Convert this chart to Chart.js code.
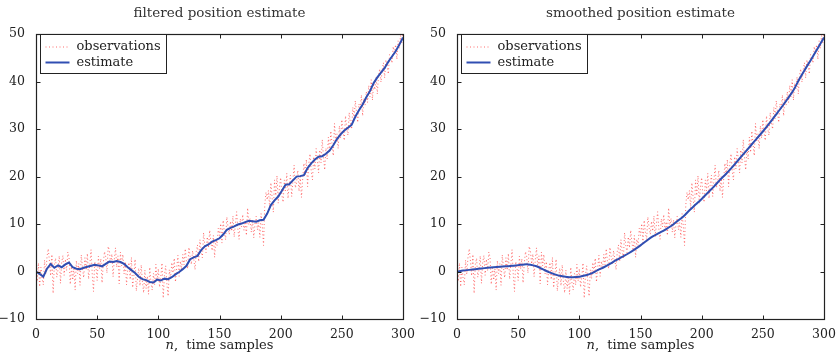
<!DOCTYPE html>
<html>
<head>
<meta charset="utf-8">
<script src="https://cdn.jsdelivr.net/npm/chart.js@4.4.0/dist/chart.umd.min.js"></script>
<style>
  html, body { margin: 0; padding: 0; background: #fff; }
  #wrap { position: relative; width: 836px; height: 356px; }
  canvas { position: absolute; top: 0; }
</style>
</head>
<body>
<div id="wrap">
  <canvas id="left" width="418" height="356" style="left:0"></canvas>
  <canvas id="right" width="418" height="356" style="left:418px"></canvas>
</div>
<script>
// noisy position measurements, one per time sample n = 0..300
var observations = [
  0.5, -2.1, 1.8, -3.2, 0.9, -1.5, -2.8, 2.4, -0.6, 3.1,
  4.8, 2.2, -0.9, 3.6, -4.6, 1.5, 2.8, -1.2, 0.4, 3.3,
  -2.5, 1.9, 3.4, -0.8, 2.6, 0.2, 4.1, 3.0, -2.7, 1.1,
  -1.8, 0.6, -3.9, 2.3, -0.4, 1.7, -2.9, 3.5, 0.8, -1.3,
  2.9, 0.3, 3.8, -1.6, 1.4, 4.6, -0.7, -4.2, 2.1, 1.0,
  -1.9, 3.2, 0.5, 2.7, -2.4, 1.8, 4.2, 3.1, -0.3, 5.3,
  4.4, 1.6, 3.7, -1.1, 2.5, 5.0, 0.9, 3.3, -2.6, 4.1,
  1.2, 3.6, -0.5, 2.1, -2.8, 0.4, 1.9, -1.7, 3.0, -3.4,
  -0.9, 2.6, -4.1, -1.5, 0.7, -3.0, 1.4, -2.2, -4.5, 0.3,
  -3.6, -1.0, -4.8, 0.9, -2.5, -3.9, -0.4, -2.8, 1.5, -2.0,
  0.6, -3.3, -1.2, 1.8, -5.6, -0.8, 1.2, -2.6, -5.2, 0.4,
  -1.5, 1.9, -0.3, 2.8, -2.2, 0.7, 3.4, -1.0, 2.2, 0.5,
  3.6, 1.4, 4.8, 2.0, 0.6, 5.1, 3.2, 1.5, 4.4, 2.6,
  0.4, 4.2, 5.6, 2.1, 6.7, 4.3, 2.9, 8.2, 5.4, 4.0,
  7.3, 5.0, 8.7, 6.1, 4.4, 7.6, 3.0, 6.8, 5.5, 9.1,
  7.6, 10.1, 6.0, 10.8, 8.2, 6.7, 11.5, 9.3, 7.8, 10.6,
  8.5, 11.7, 7.3, 9.9, 12.6, 9.0, 6.8, 11.1, 9.4, 12.0,
  8.7, 10.5, 7.6, 13.4, 9.8, 11.2, 8.3, 10.9, 7.1, 10.0,
  11.6, 8.8, 10.3, 7.2, 12.2, 9.5, 5.5, 14.0, 16.7, 15.1,
  17.1, 13.4, 18.7, 15.6, 12.5, 19.3, 16.0, 20.2, 14.4, 17.8,
  19.8, 16.1, 14.6, 19.3, 17.0, 20.7, 15.4, 18.5, 20.3, 15.8,
  19.2, 22.4, 17.6, 18.7, 21.3, 16.9, 20.0, 15.6, 19.5, 22.8,
  20.4, 23.6, 17.9, 22.7, 24.8, 21.1, 19.3, 24.2, 21.6, 25.9,
  23.5, 20.8, 25.6, 22.9, 27.8, 24.2, 21.4, 26.0, 23.7, 28.3,
  25.1, 29.6, 26.8, 24.4, 31.2, 27.5, 29.0, 25.9, 30.7, 28.1,
  32.0, 29.4, 27.6, 32.8, 30.2, 28.7, 33.5, 31.3, 30.0, 34.6,
  32.2, 36.0, 33.5, 31.4, 35.3, 34.1, 37.2, 32.8, 36.5, 35.0,
  37.9, 35.6, 39.2, 36.8, 40.4, 36.1, 39.7, 38.3, 41.0, 37.4,
  41.3, 42.7, 39.9, 42.5, 44.0, 40.8, 44.6, 43.4, 41.6, 45.7,
  45.2, 43.9, 47.4, 46.1, 47.8, 44.7, 48.6, 47.0, 49.7, 48.2,
  50.0
];

// filtered estimate, read every 3 samples
var filteredStep = 3;
var filteredEstimate = [
  0, -0.5, -1.1, 0.6, 1.6, 0.8, 1.3, 0.9, 1.5, 1.9,
  0.9, 0.6, 0.5, 0.8, 1.0, 1.2, 1.4, 1.3, 1.1, 1.6,
  2.1, 2.0, 2.2, 2.0, 1.6, 0.9, 0.3, -0.3, -1.1, -1.6,
  -1.8, -2.2, -2.3, -1.7, -1.9, -1.5, -1.6, -1.2, -0.6, -0.1,
  0.5, 1.2, 2.6, 3.0, 3.3, 4.5, 5.3, 5.7, 6.3, 6.6,
  7.0, 7.8, 8.8, 9.2, 9.5, 9.9, 10.1, 10.4, 10.7, 10.6,
  10.5, 10.8, 10.9, 12.2, 14.0, 15.0, 15.8, 17.0, 18.3, 18.4,
  19.2, 20.0, 20.1, 20.3, 21.8, 22.8, 23.6, 24.2, 24.3, 24.8,
  25.5, 26.6, 27.9, 28.9, 29.7, 30.3, 30.9, 32.6, 34.0, 35.2,
  36.7, 38.0, 39.7, 40.9, 41.9, 42.9, 44.2, 45.3, 46.4, 47.8,
  49.3
];

// smoothed estimate, read every 5 samples
var smoothedStep = 5;
var smoothedEstimate = [
  0, 0.2, 0.35, 0.5, 0.65, 0.78, 0.9, 1.0, 1.1, 1.2,
  1.35, 1.5, 1.45, 1.1, 0.5, -0.1, -0.6, -0.95, -1.15, -1.2,
  -1.1, -0.8, -0.4, 0.3, 0.9, 1.6, 2.4, 3.1, 3.8, 4.6,
  5.5, 6.5, 7.4, 8.1, 8.8, 9.6, 10.6, 11.6, 12.9, 14.1,
  15.3, 16.6, 17.9, 19.3, 20.6, 22.0, 23.5, 25.0, 26.5, 28.0,
  29.5, 31.1, 32.8, 34.5, 36.3, 38.2, 40.6, 42.8, 44.9, 47.1,
  49.3
];

var xTickStep = 50;
var yTickStep = 10;

var serif = '"DejaVu Serif", "Liberation Serif", serif';

function toPoints(values, step) {
  return values.map(function(v, i) { return { x: i * step, y: v }; });
}

// box, inward ticks on all four sides, legend and x label
var framePlugin = {
  id: 'frame',
  afterDraw: function(chart) {
    var ctx = chart.ctx;
    var a = chart.chartArea;
    var L = Math.round(a.left) + 0.5, R = Math.round(a.right) + 0.5;
    var T = Math.round(a.top) + 0.5, B = Math.round(a.bottom) + 0.5;
    ctx.save();
    ctx.strokeStyle = '#222';
    ctx.lineWidth = 1.2;
    ctx.strokeRect(L, T, R - L, B - T);

    var tl = 4;
    ctx.lineWidth = 1;
    ctx.beginPath();
    chart.scales.x.ticks.forEach(function(t) {
      var px = Math.round(chart.scales.x.getPixelForValue(t.value)) + 0.5;
      ctx.moveTo(px, B); ctx.lineTo(px, B - tl);
      ctx.moveTo(px, T); ctx.lineTo(px, T + tl);
    });
    chart.scales.y.ticks.forEach(function(t) {
      var py = Math.round(chart.scales.y.getPixelForValue(t.value)) + 0.5;
      ctx.moveTo(L, py); ctx.lineTo(L + tl, py);
      ctx.moveTo(R, py); ctx.lineTo(R - tl, py);
    });
    ctx.stroke();

    // legend box
    var bx = L + 4, by = T, bw = 126, bh = 39;
    ctx.fillStyle = '#fff';
    ctx.fillRect(bx, by, bw, bh);
    ctx.strokeStyle = '#222';
    ctx.lineWidth = 1;
    ctx.strokeRect(bx, by, bw, bh);
    var rows = [12.5, 28];
    ctx.font = '13px ' + serif;
    ctx.textBaseline = 'middle';
    ctx.textAlign = 'left';
    chart.data.datasets.forEach(function(ds, i) {
      var y = T + rows[i];
      ctx.save();
      ctx.strokeStyle = ds.borderColor;
      ctx.lineWidth = ds.borderWidth;
      ctx.setLineDash(ds.borderDash || []);
      ctx.beginPath();
      ctx.moveTo(L + 9, y);
      ctx.lineTo(L + 33, y);
      ctx.stroke();
      ctx.restore();
      ctx.fillStyle = '#222';
      ctx.fillText(ds.label, L + 40, y);
    });

    // x axis label with italic n
    var part1 = 'n', part2 = ',  time samples';
    ctx.font = 'italic 13px ' + serif;
    var w1 = ctx.measureText(part1).width;
    ctx.font = '13px ' + serif;
    var w2 = ctx.measureText(part2).width;
    var cx = (a.left + a.right) / 2;
    var x0 = cx - (w1 + w2) / 2;
    var ly = 346;
    ctx.fillStyle = '#222';
    ctx.font = 'italic 13px ' + serif;
    ctx.fillText(part1, x0, ly);
    ctx.font = '13px ' + serif;
    ctx.fillText(part2, x0 + w1, ly);
    ctx.restore();
  }
};

function makeChart(id, title, estimate, step, tension, yWidth, padRight) {
  return new Chart(document.getElementById(id), {
    type: 'line',
    data: {
      datasets: [{
        label: 'observations',
        data: toPoints(observations, 1),
        borderColor: 'rgba(255, 60, 60, 0.75)',
        borderWidth: 1,
        borderDash: [1, 2.5],
        pointRadius: 0,
        tension: 0,
        order: 1
      }, {
        label: 'estimate',
        data: toPoints(estimate, step),
        borderColor: 'rgb(48, 78, 178)',
        borderWidth: 2,
        pointRadius: 0,
        tension: tension,
        order: 0
      }]
    },
    options: {
      responsive: false,
      animation: false,
      layout: { padding: { left: 0, right: padRight, top: 0, bottom: 0 } },
      plugins: {
        legend: { display: false },
        tooltip: { enabled: false },
        title: {
          display: true,
          text: title,
          fullSize: false,
          color: '#333',
          font: { family: serif, size: 13.5, weight: 'normal' },
          padding: { top: 5, bottom: 13 }
        }
      },
      scales: {
        x: {
          type: 'linear',
          min: 0,
          max: 300,
          grid: { display: false },
          border: { display: false },
          ticks: {
            stepSize: xTickStep,
            padding: 0,
            maxRotation: 0,
            color: '#222',
            font: { family: serif, size: 12.5 }
          },
          afterFit: function(s) { s.height = 37; }
        },
        y: {
          min: -10,
          max: 50,
          grid: { display: false },
          border: { display: false },
          ticks: {
            stepSize: yTickStep,
            padding: 3,
            color: '#222',
            font: { family: serif, size: 12.5 },
            callback: function(v) { return v < 0 ? '\u2212' + Math.abs(v) : String(v); }
          },
          afterFit: function(s) { s.width = yWidth; }
        }
      }
    },
    plugins: [framePlugin]
  });
}

makeChart('left', 'filtered position estimate', filteredEstimate, filteredStep, 0, 36, 15);
makeChart('right', 'smoothed position estimate', smoothedEstimate, smoothedStep, 0.4, 39, 12);
</script>
</body>
</html>
